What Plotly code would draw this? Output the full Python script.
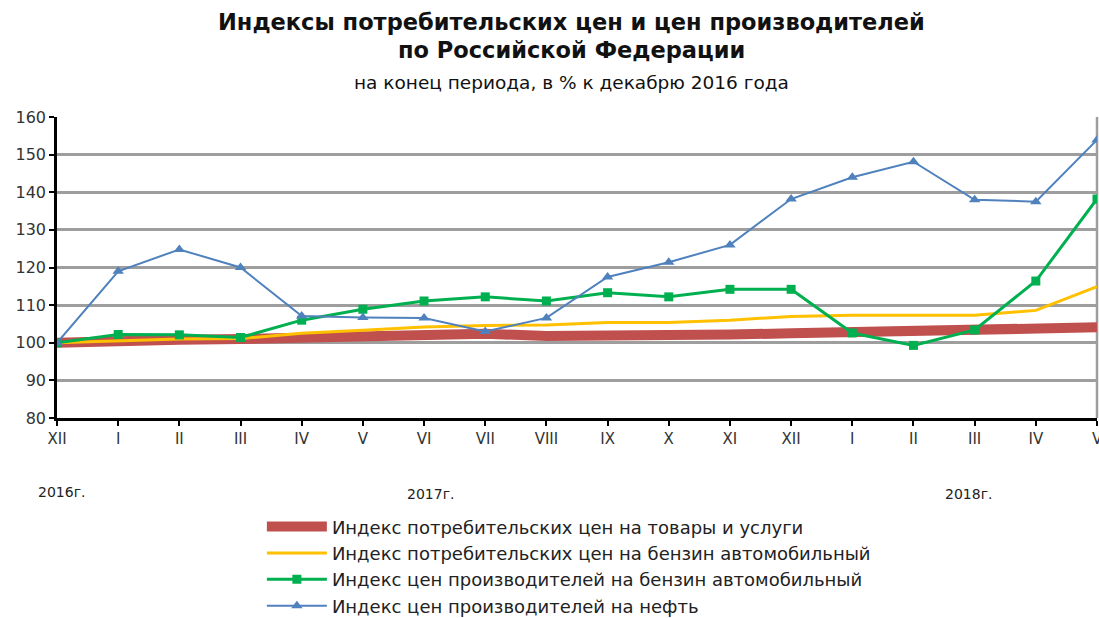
import plotly.graph_objects as go

months = ["XII", "I", "II", "III", "IV", "V", "VI", "VII", "VIII", "IX", "X", "XI",
          "XII", "I", "II", "III", "IV", "V"]
x_idx = list(range(len(months)))

cpi_all = [100.0, 100.6, 100.8, 101.0, 101.3, 101.7, 102.3, 102.4, 101.8, 101.8, 102.0,
           102.2, 102.5, 102.8, 103.0, 103.3, 103.7, 104.1]
cpi_petrol = [100.0, 100.5, 101.0, 101.1, 102.5, 103.3, 104.2, 104.6, 104.7, 105.4, 105.4,
              106.0, 107.0, 107.3, 107.3, 107.3, 108.6, 114.9]
ppi_petrol = [100.0, 102.2, 102.1, 101.4, 106.0, 108.9, 111.1, 112.2, 111.1, 113.3, 112.2,
              114.2, 114.2, 102.6, 99.3, 103.4, 116.4, 138.2]
ppi_oil = [100.0, 119.0, 124.8, 120.0, 107.1, 106.7, 106.6, 103.0, 106.6, 117.5, 121.4,
           126.0, 138.2, 144.0, 148.1, 138.0, 137.5, 153.9]

names = [
    "Индекс потребительских цен на товары и услуги",
    "Индекс потребительских цен на бензин автомобильный",
    "Индекс цен производителей на бензин автомобильный",
    "Индекс цен производителей на нефть",
]
years = ["2016г.", "2017г.", "2018г."]

FONT = "DejaVu Sans"

fig = go.Figure()
fig.add_trace(go.Scatter(x=x_idx, y=cpi_all, mode="lines", name=names[0], legendgroup="a",
                         line=dict(color="#C0504D", width=10)))
fig.add_trace(go.Scatter(x=x_idx, y=cpi_petrol, mode="lines", name=names[1], legendgroup="b",
                         line=dict(color="#FFC000", width=3)))
fig.add_trace(go.Scatter(x=x_idx, y=ppi_petrol, mode="lines+markers", name=names[2],
                         legendgroup="c",
                         line=dict(color="#00B050", width=3),
                         marker=dict(symbol="square", size=9, color="#00B050")))
fig.add_trace(go.Scatter(x=x_idx, y=ppi_oil, mode="lines+markers", name=names[3],
                         legendgroup="d",
                         line=dict(color="#4F81BD", width=2),
                         marker=dict(symbol="triangle-up", size=10, color="#4F81BD")))

fig.update_layout(
    width=1099, height=618,
    margin=dict(l=57, r=2, t=117, b=200, autoexpand=False),
    paper_bgcolor="white", plot_bgcolor="white",
    font=dict(family=FONT, color="#222"),
    showlegend=True,
    legend=dict(x=0.197, y=-0.30, xanchor="left", yanchor="top",
                font=dict(size=18, family=FONT, color="#222"),
                itemwidth=60, bgcolor="rgba(0,0,0,0)", traceorder="grouped",
                tracegroupgap=0),
    xaxis=dict(range=[0, 17], tickmode="array", tickvals=x_idx, ticktext=months,
               showgrid=False, zeroline=False, showline=True, linecolor="black",
               linewidth=2.5, ticks="outside", ticklen=5, tickwidth=2, tickcolor="black",
               automargin=False, ticklabeloverflow="allow",
               tickfont=dict(size=15, family=FONT, color="#333")),
    yaxis=dict(range=[80, 160], dtick=10, showgrid=True, gridcolor="#9E9E9E", gridwidth=2.5,
               zeroline=False, showline=True, linecolor="black", linewidth=2.5,
               ticks="outside", ticklen=5, tickwidth=2, tickcolor="black",
               automargin=False, ticklabeloverflow="allow",
               tickfont=dict(size=16, family=FONT, color="#333")),
)

fig.add_shape(type="line", xref="paper", yref="paper", x0=1, x1=1, y0=0, y1=1,
              line=dict(color="#9E9E9E", width=2.5), layer="below")

annotations = [
    dict(text="<b>Индексы потребительских цен и цен производителей</b>", x=0.5, y=22,
         size=22.5),
    dict(text="<b>по Российской Федерации</b>", x=0.5, y=50, size=22.5),
    dict(text="на конец периода, в % к декабрю 2016 года", x=0.5, y=82, size=18.5),
]
for a in annotations:
    fig.add_annotation(text=a["text"], xref="paper", yref="paper",
                       x=(571 - 57) / 1040, y=(418 - a["y"]) / 301,
                       xanchor="center", yanchor="middle", showarrow=False,
                       font=dict(size=a["size"], family=FONT, color="#111"))

year_pos = [(0.08, 492), (6.1, 494), (14.9, 494)]
for label, (xp, yp) in zip(years, year_pos):
    fig.add_annotation(text=label, xref="x", yref="paper", x=xp, y=(418 - yp) / 301,
                       xanchor="center", yanchor="middle", showarrow=False,
                       font=dict(size=14, family=FONT, color="#222"))

fig.write_html("out.html",
               config={"displayModeBar": False},
               post_script="document.body.style.margin='0';"
                           "document.body.style.overflow='hidden';")
